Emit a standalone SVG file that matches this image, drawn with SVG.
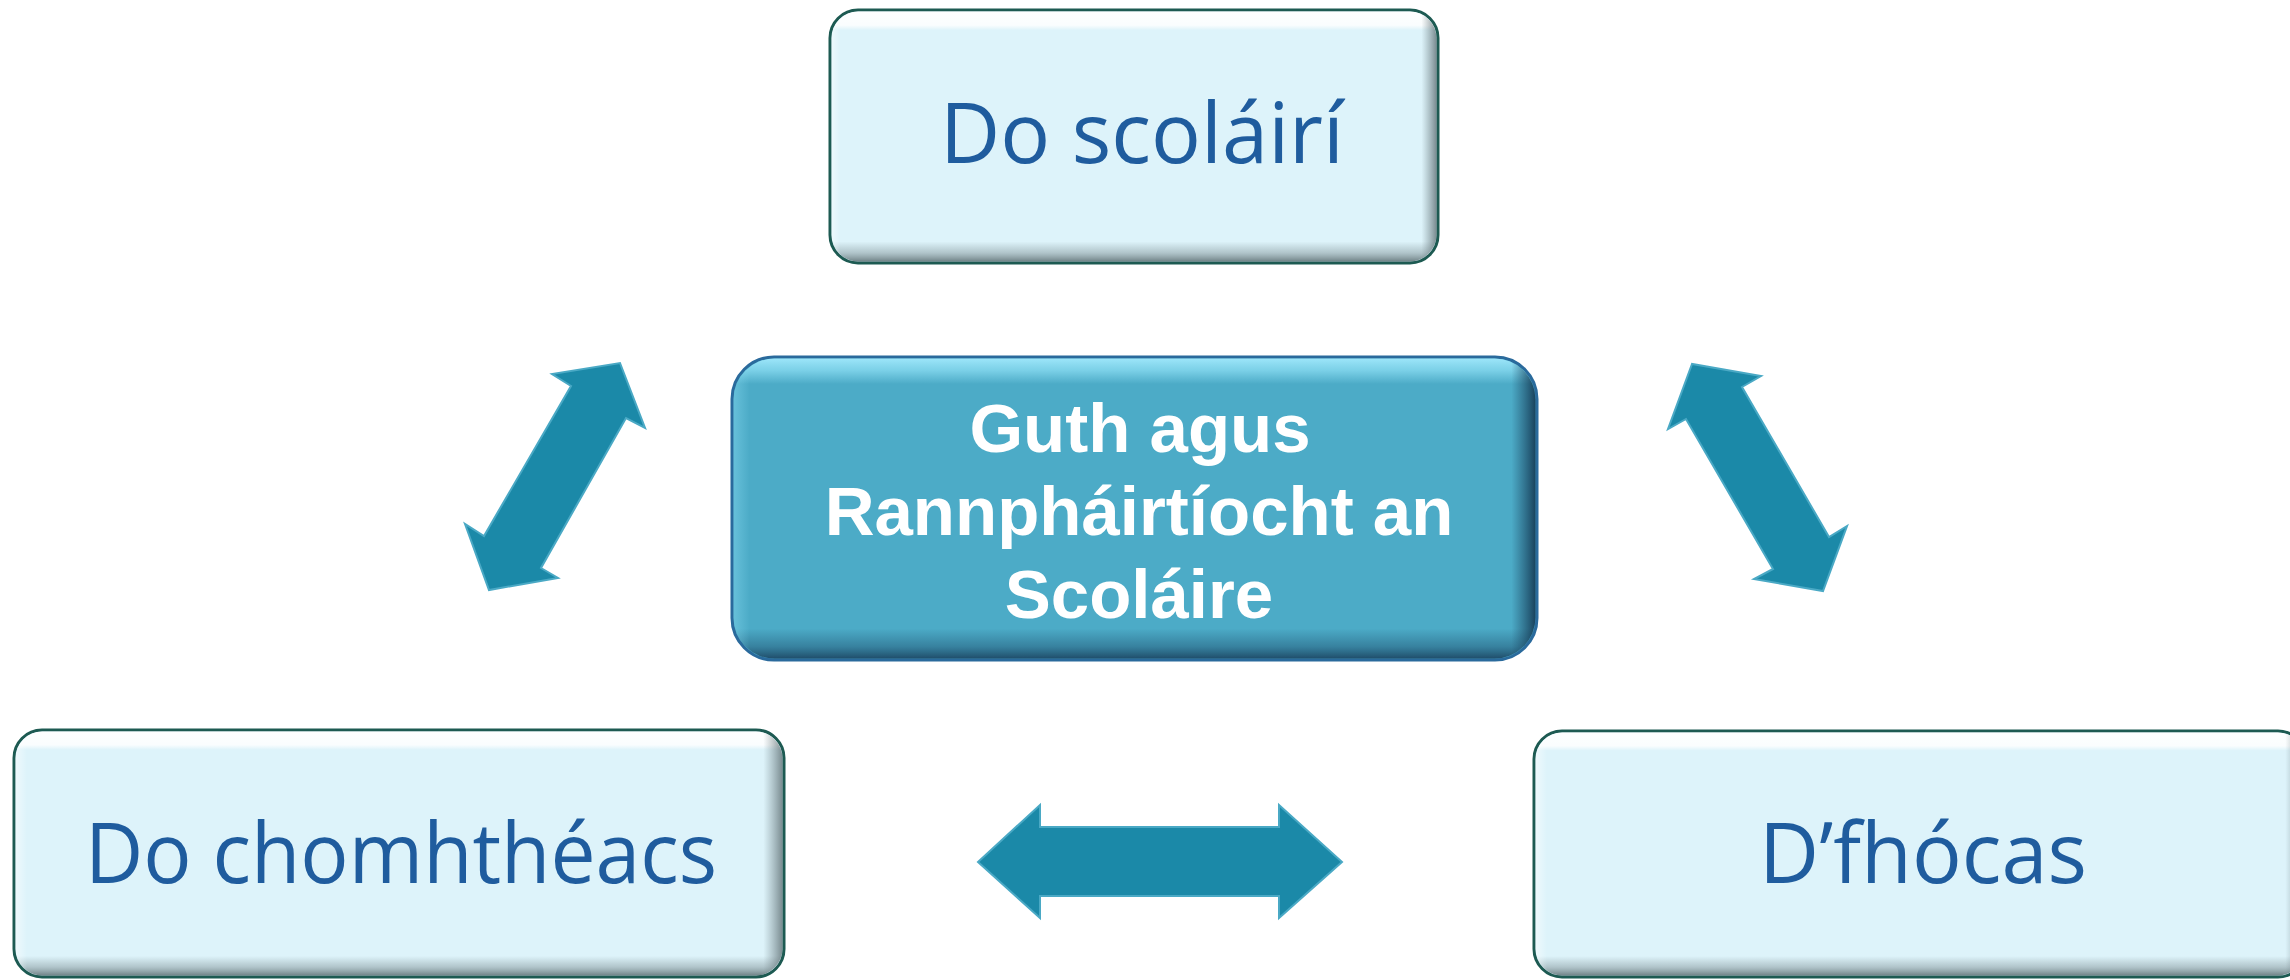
<svg xmlns="http://www.w3.org/2000/svg" width="2290" height="980" viewBox="0 0 2290 980">
<defs>
<linearGradient id="lv" x1="0" y1="0" x2="0" y2="1">
<stop offset="0" stop-color="#ffffff" stop-opacity="0.95"/>
<stop offset="0.055" stop-color="#ffffff" stop-opacity="0.85"/>
<stop offset="0.075" stop-color="#ffffff" stop-opacity="0"/>
<stop offset="0.92" stop-color="#7a8c90" stop-opacity="0"/>
<stop offset="0.965" stop-color="#7a8c90" stop-opacity="0.45"/>
<stop offset="1" stop-color="#55666a" stop-opacity="0.8"/>
</linearGradient>
<linearGradient id="lh" x1="0" y1="0" x2="1" y2="0">
<stop offset="0" stop-color="#ffffff" stop-opacity="0.5"/>
<stop offset="0.015" stop-color="#ffffff" stop-opacity="0"/>
<stop offset="0.975" stop-color="#6b7c80" stop-opacity="0"/>
<stop offset="1" stop-color="#4e5e62" stop-opacity="0.7"/>
</linearGradient>
<linearGradient id="cv" x1="0" y1="0" x2="0" y2="1">
<stop offset="0" stop-color="#a6ecff" stop-opacity="0.9"/>
<stop offset="0.04" stop-color="#8fe0f5" stop-opacity="0.7"/>
<stop offset="0.085" stop-color="#8fe0f5" stop-opacity="0"/>
<stop offset="0.9" stop-color="#1e4f6e" stop-opacity="0"/>
<stop offset="0.96" stop-color="#1e4f6e" stop-opacity="0.45"/>
<stop offset="1" stop-color="#183d5a" stop-opacity="0.85"/>
</linearGradient>
<linearGradient id="ch" x1="0" y1="0" x2="1" y2="0">
<stop offset="0" stop-color="#8fe0f5" stop-opacity="0.4"/>
<stop offset="0.02" stop-color="#8fe0f5" stop-opacity="0"/>
<stop offset="0.97" stop-color="#183d5a" stop-opacity="0"/>
<stop offset="1" stop-color="#10304a" stop-opacity="0.85"/>
</linearGradient>
</defs>
<style>
.lbox{fill:#ddf3fa;stroke:#1d5a52;stroke-width:3}
.lov{stroke:none}
.ltxt{font-family:"Open Sans","Noto Sans",sans-serif;font-size:84px;fill:#1f5c9e;text-anchor:middle}
.cbox{fill:#4cabc7;stroke:#2a6a9c;stroke-width:3}
.ctxt{font-family:"Liberation Sans",Arial,sans-serif;font-weight:bold;font-size:69px;fill:#ffffff;text-anchor:middle}
.arr{fill:#1b89a8;stroke:#4aa9c5;stroke-width:2;stroke-linejoin:miter}
</style>
<rect width="2290" height="980" fill="#ffffff"/>

<g id="connectors">
<polygon class="arr" points="620,363 645,428 626,418 541,568 558,578 489,590 465,524 484,536 571,386 552,374"/>
<polygon class="arr" points="1692,364 1668,429 1686,419 1773,569 1754,579 1823,591 1847,526 1829,537 1742,387 1761,376"/>
<polygon class="arr" points="978,862 1040,805 1040,827 1279,827 1279,805 1342,862 1279,918 1279,896 1040,896 1040,918"/>
</g>

<g id="node-scolairi">
<rect class="lbox" x="830" y="10" width="608" height="253" rx="28"/>
<rect class="lov" x="831.5" y="11.5" width="605" height="250" rx="27" fill="url(#lv)"/>
<rect class="lov" x="831.5" y="11.5" width="605" height="250" rx="27" fill="url(#lh)"/>
<text class="ltxt" x="1142" y="163" textLength="404" lengthAdjust="spacingAndGlyphs">Do scoláirí</text>
</g>

<g id="node-center">
<rect class="cbox" x="732" y="357" width="805" height="303" rx="42"/>
<rect class="lov" x="733.5" y="358.5" width="802" height="300" rx="41" fill="url(#cv)"/>
<rect class="lov" x="733.5" y="358.5" width="802" height="300" rx="41" fill="url(#ch)"/>
<text class="ctxt" x="1140" y="452">Guth agus</text>
<text class="ctxt" x="1139" y="535">Rannpháirtíocht an</text>
<text class="ctxt" x="1139" y="618">Scoláire</text>
</g>

<g id="node-comhthéacs">
<rect class="lbox" x="14" y="730" width="770" height="247" rx="28"/>
<rect class="lov" x="15.5" y="731.5" width="767" height="244" rx="27" fill="url(#lv)"/>
<rect class="lov" x="15.5" y="731.5" width="767" height="244" rx="27" fill="url(#lh)"/>
<text class="ltxt" x="401" y="883" textLength="632" lengthAdjust="spacingAndGlyphs">Do chomhthéacs</text>
</g>

<g id="node-focas">
<rect class="lbox" x="1534" y="731" width="772" height="246" rx="28"/>
<rect class="lov" x="1535.5" y="732.5" width="769" height="243" rx="27" fill="url(#lv)"/>
<rect class="lov" x="1535.5" y="732.5" width="769" height="243" rx="27" fill="url(#lh)"/>
<text class="ltxt" x="1923" y="883" textLength="328" lengthAdjust="spacingAndGlyphs">D’fhócas</text>
</g>
</svg>
